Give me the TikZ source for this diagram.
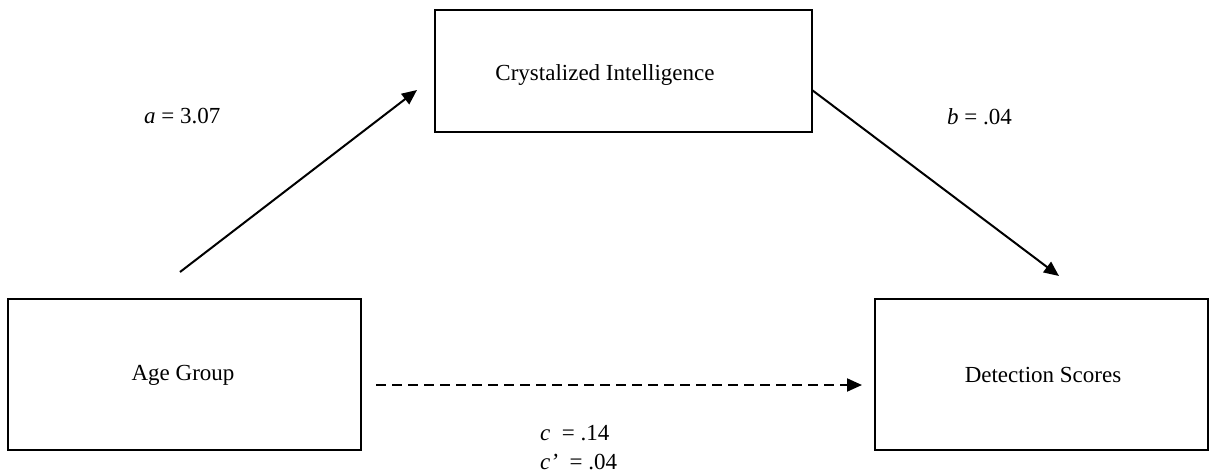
\documentclass[tikz,border=0pt]{standalone}
\usepackage{fontspec}
\setmainfont{Liberation Serif}
\usetikzlibrary{arrows.meta}
\begin{document}
\begin{tikzpicture}[x=1pt,y=-1pt,
  box/.style={draw,line width=2pt,inner sep=0pt},
  lbl/.style={font=\fontsize{23}{27}\selectfont,inner sep=0pt},
  path/.style={line width=2pt,-{Triangle[length=15pt,width=13pt]}}]
\useasboundingbox (0,0) rectangle (1216,475);
\node[box,minimum width=377pt,minimum height=122pt] (ci) at (623.5,71) {};
\node[lbl] at (605,75) {Crystalized Intelligence};
\node[box,minimum width=353pt,minimum height=151pt] (ag) at (184.5,374.5) {};
\node[lbl] (agt) at (183,375) {Age Group};
\node[box,minimum width=333pt,minimum height=151pt] (ds) at (1041.5,374) {};
\node[lbl] (dst) at (1043,375) {Detection Scores};
\coordinate (as) at (180,272);
\coordinate (ae) at (417,90);
\coordinate (bs) at (812,90);
\coordinate (be) at (1059,276);
\coordinate (cs) at (376,385);
\coordinate (ce) at (862,385);
\draw[path] (as) -- (ae);
\draw[path] (bs) -- (be);
\draw[path,dash pattern=on 10pt off 6pt] (cs) -- (ce);
\node[lbl,anchor=west] (la) at (144,116) {\textit{a} = 3.07};
\node[lbl,anchor=west] (lb) at (947,117) {\textit{b} = .04};
\node[lbl,anchor=west] (lc) at (540,433) {\textit{c}\ \ = .14};
\node[lbl,anchor=west] (lc2) at (540,462) {\textit{c’}\ \ = .04};
\end{tikzpicture}
\end{document}
